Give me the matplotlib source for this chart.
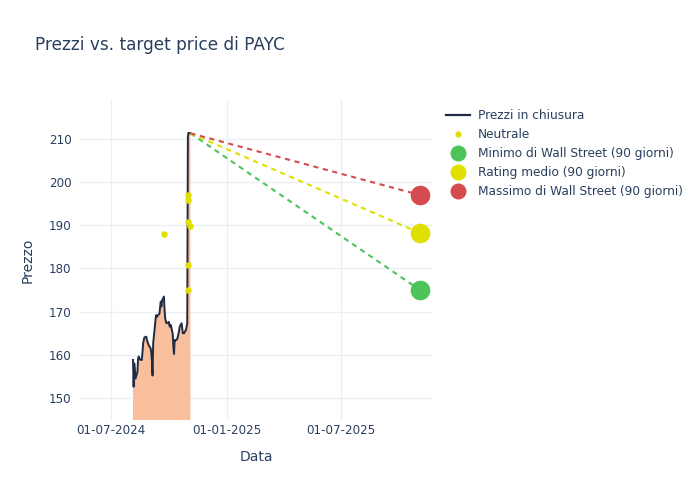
import numpy as np
import pandas as pd
import matplotlib
matplotlib.use("Agg")
import matplotlib.pyplot as plt
import matplotlib.dates as mdates
from matplotlib.lines import Line2D

# prezzi di chiusura (giorni lavorativi 05-08-2024 .. 04-11-2024)
price_dates = pd.bdate_range("2024-08-05", "2024-11-04")
close = [158.8, 152.6, 158.0, 156.5, 154.5, 156.0, 159.0, 159.6, 159.3, 158.9,
         158.8, 160.5, 162.5, 163.4, 164.0, 164.2, 163.5, 163.0, 162.6, 162.2,
         161.5, 160.5, 158.5, 155.2, 162.7, 167.0, 168.5, 169.2, 168.8, 169.0,
         169.6, 171.0, 172.3, 171.2, 172.5, 173.5, 170.6, 168.5, 167.8, 167.3,
         167.5, 167.6, 166.6, 166.5, 166.9, 164.8, 162.0, 160.2, 163.4, 163.3,
         163.6, 164.2, 164.8, 165.5, 166.5, 167.3, 166.2, 165.0, 165.0, 165.0,
         165.8, 166.5, 167.3, 210.5, 211.4, 211.3]

# rating neutrali degli analisti
neutral_dates = pd.to_datetime(["2024-09-23", "2024-10-31", "2024-10-31", "2024-10-31",
                                "2024-10-31", "2024-10-31", "2024-11-04"])
neutral_vals = [188.0, 197.0, 195.9, 190.8, 180.9, 174.9, 189.8]

# target a 90 giorni
target_date = pd.Timestamp("2025-11-03")
target_labels = ["Minimo di Wall Street (90 giorni)", "Rating medio (90 giorni)",
                 "Massimo di Wall Street (90 giorni)"]
target_vals = [175.0, 188.2, 197.0]
target_colors = ["#4EC35A", "#E0DF00", "#D64B50"]

txt = "#2a3f5f"
grid = "#EBF0F8"

fig = plt.figure(figsize=(7, 5), dpi=100)
ax = fig.add_axes([80 / 700, 80 / 500, 352 / 700, 320 / 500])

ax.fill_between(price_dates, close, 0, color="#F9BE9B", linewidth=0, zorder=2)
ax.plot(price_dates, close, color="#1F2A44", linewidth=1.4, zorder=3)
ax.scatter(neutral_dates, neutral_vals, s=22, color="#E0DF00", linewidths=0, zorder=4)

for val, col in zip(target_vals, target_colors):
    ax.plot([price_dates[-1], target_date], [close[-1], val], color=col,
            linewidth=1.5, dashes=(2.5, 2.2), zorder=3)
    ax.scatter([target_date], [val], s=200, color=col, linewidths=0, zorder=5)

ax.set_xlim(pd.Timestamp("2024-05-13"), pd.Timestamp("2025-11-22"))
ax.set_ylim(144.9, 219.0)
ax.set_yticks(np.arange(150, 211, 10))
ax.set_xticks(pd.to_datetime(["2024-07-01", "2025-01-01", "2025-07-01"]))
ax.xaxis.set_major_formatter(mdates.DateFormatter("%d-%m-%Y"))
ax.grid(True, color=grid, linewidth=1)
ax.set_axisbelow(True)
for s in ax.spines.values():
    s.set_visible(False)
ax.tick_params(axis="y", length=0, labelsize=8.6, colors=txt, pad=6)
ax.tick_params(axis="x", length=0, labelsize=8.6, colors=txt, pad=3)
ax.set_xlabel("Data", fontsize=10, color=txt, labelpad=9)
ax.set_ylabel("Prezzo", fontsize=10, color=txt, labelpad=10)

fig.text(35 / 700, 1 - 45 / 500, "Prezzi vs. target price di PAYC", fontsize=12.2,
         color=txt, va="center", ha="left")

handles = [Line2D([], [], color="#1F2A44", linewidth=1.6),
           Line2D([], [], linestyle="none", marker="o", markersize=4.5,
                  markerfacecolor="#E0DF00", markeredgewidth=0)]
for col in target_colors:
    handles.append(Line2D([], [], linestyle="none", marker="o", markersize=11.5,
                          markerfacecolor=col, markeredgewidth=0))
labels = ["Prezzi in chiusura", "Neutrale"] + target_labels
leg = fig.legend(handles, labels, loc="upper left", bbox_to_anchor=(446 / 700, 1 - 109 / 500),
                 frameon=False, fontsize=8.75, labelcolor=txt, handlelength=2.0,
                 handletextpad=0.6, labelspacing=0.5, borderaxespad=0, borderpad=0)

fig.savefig("out.png", dpi=100)
